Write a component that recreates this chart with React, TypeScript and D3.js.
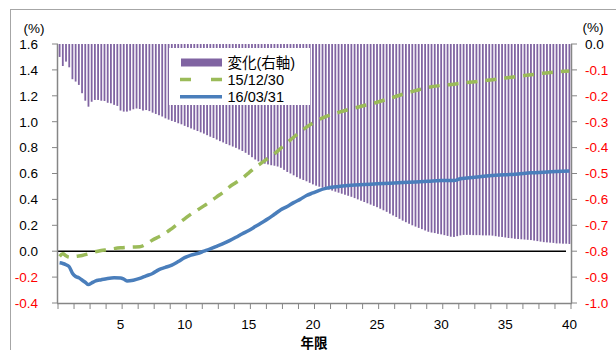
import React from 'react';
import * as d3 from 'd3';

// categories: years 0.25 .. 40 (quarterly)
const barCategories: number[] = d3.range(1, 161).map((i) => i / 4);

// 変化 (right axis, %)
const changeValues: number[] = [
  -0.05, -0.085, -0.068, -0.09, -0.136, -0.145, -0.158, -0.19, -0.219, -0.242,
  -0.223, -0.216, -0.216, -0.219, -0.22, -0.227, -0.229, -0.235, -0.239, -0.257,
  -0.261, -0.261, -0.257, -0.252, -0.249, -0.251, -0.257, -0.255, -0.259, -0.265,
  -0.27, -0.275, -0.28, -0.287, -0.292, -0.297, -0.301, -0.306, -0.31, -0.316,
  -0.321, -0.326, -0.331, -0.336, -0.341, -0.346, -0.352, -0.358, -0.363, -0.369,
  -0.375, -0.38, -0.386, -0.391, -0.396, -0.401, -0.407, -0.413, -0.42, -0.428,
  -0.437, -0.446, -0.453, -0.458, -0.462, -0.465, -0.468, -0.47, -0.473, -0.478,
  -0.486, -0.494, -0.5, -0.507, -0.514, -0.52, -0.525, -0.53, -0.536, -0.542,
  -0.547, -0.551, -0.555, -0.558, -0.562, -0.566, -0.57, -0.574, -0.578, -0.582,
  -0.586, -0.59, -0.595, -0.6, -0.605, -0.61, -0.615, -0.62, -0.625, -0.63,
  -0.636, -0.642, -0.648, -0.655, -0.662, -0.668, -0.675, -0.682, -0.688, -0.694,
  -0.7, -0.705, -0.71, -0.715, -0.72, -0.725, -0.728, -0.73, -0.733, -0.735,
  -0.738, -0.741, -0.744, -0.745, -0.742, -0.739, -0.737, -0.737, -0.737, -0.738,
  -0.738, -0.738, -0.739, -0.739, -0.739, -0.74, -0.742, -0.744, -0.745, -0.747,
  -0.749, -0.75, -0.752, -0.753, -0.754, -0.755, -0.756, -0.757, -0.759, -0.761,
  -0.763, -0.765, -0.766, -0.767, -0.768, -0.77, -0.77, -0.771, -0.771, -0.772,
];

// 15/12/30 (left axis, %)
const greenYears: number[] = [
  0.25, 0.5, 0.75, 1, 1.25, 1.5, 2, 2.5, 3, 3.5, 4, 4.5, 5, 5.5, 6, 6.5, 7, 7.5, 8, 8.5,
  9, 9.5, 10, 10.5, 11, 11.5, 12, 12.5, 13, 13.5, 14, 14.5, 15, 15.5, 16, 16.5, 17, 17.5,
  18, 18.5, 19, 19.5, 20, 21, 22, 23, 24, 25, 26, 27, 28, 29, 30, 31, 32, 33, 34, 35, 36,
  37, 38, 39, 40,
];
const greenValues: number[] = [
  -0.04, -0.02, -0.035, -0.046, -0.045, -0.04, -0.033, -0.02, -0.005, 0.005, 0.012, 0.02,
  0.026, 0.03, 0.032, 0.034, 0.055, 0.087, 0.112, 0.14, 0.175, 0.213, 0.25, 0.287, 0.318,
  0.35, 0.383, 0.42, 0.455, 0.497, 0.53, 0.564, 0.605, 0.648, 0.682, 0.717, 0.752, 0.795,
  0.838, 0.88, 0.92, 0.958, 0.99, 1.04, 1.072, 1.099, 1.125, 1.15, 1.18, 1.212, 1.24, 1.265,
  1.28, 1.29, 1.302, 1.313, 1.324, 1.337, 1.35, 1.362, 1.375, 1.385, 1.392,
];

// 16/03/31 (left axis, %)
const blueYears: number[] = [
  0.25, 0.5, 0.75, 1, 1.25, 1.5, 1.75, 2, 2.25, 2.5, 2.75, 3, 3.5, 4, 4.5, 5, 5.25, 5.5, 6,
  6.5, 7, 7.5, 8, 8.5, 9, 9.5, 10, 10.5, 11, 11.5, 12, 12.5, 13, 13.5, 14, 14.5, 15, 15.5,
  16, 16.5, 17, 17.5, 18, 18.5, 19, 19.5, 20, 20.5, 21, 22, 23, 24, 25, 26, 27, 28, 29, 30,
  31, 31.5, 32, 33, 34, 35, 36, 37, 38, 39, 40,
];
const blueValues: number[] = [
  -0.09, -0.095, -0.105, -0.12, -0.17, -0.195, -0.205, -0.222, -0.24, -0.258, -0.245,
  -0.232, -0.22, -0.21, -0.205, -0.206, -0.215, -0.23, -0.224, -0.21, -0.19, -0.172,
  -0.142, -0.125, -0.107, -0.08, -0.05, -0.03, -0.018, 0.0, 0.018, 0.038, 0.058, 0.082,
  0.108, 0.135, 0.16, 0.19, 0.22, 0.25, 0.285, 0.32, 0.345, 0.375, 0.4, 0.43, 0.45, 0.47,
  0.485, 0.5, 0.51, 0.515, 0.52, 0.525, 0.53, 0.535, 0.54, 0.545, 0.545, 0.56, 0.565,
  0.575, 0.585, 0.59, 0.597, 0.605, 0.61, 0.615, 0.62,
];

const leftTicks: number[] = [-0.4, -0.2, 0, 0.2, 0.4, 0.6, 0.8, 1.0, 1.2, 1.4, 1.6];
const rightTicks: number[] = [-1.0, -0.9, -0.8, -0.7, -0.6, -0.5, -0.4, -0.3, -0.2, -0.1, 0];
const xLabelYears: number[] = [5, 10, 15, 20, 25, 30, 35, 40];
const legendLabels: string[] = ['変化(右軸)', '15/12/30', '16/03/31'];

const FONT = "'Liberation Sans', 'Noto Sans CJK JP', sans-serif";
const PURPLE = '#8064A2';
const GREEN = '#9BBB59';
const BLUE = '#4A7EBB';
const AXIS = '#868686';
const RED = '#FF0000';

const fmt = d3.formatLocale({
  decimal: '.',
  thousands: ',',
  grouping: [3],
  currency: ['', ''],
  minus: '-',
}).format('.1f');

export default function App() {
  const X0 = 58;
  const X1 = 571;
  const YT = 44;
  const YB = 303;

  const xBand = d3
    .scaleBand<number>()
    .domain(barCategories)
    .range([X0, X1])
    .paddingInner(0.44)
    .paddingOuter(0.22);
  const step = xBand.step();
  const center = (t: number) => (xBand(t) as number) + xBand.bandwidth() / 2;
  const xLin = d3
    .scaleLinear()
    .domain([barCategories[0], barCategories[barCategories.length - 1]])
    .range([center(barCategories[0]), center(barCategories[barCategories.length - 1])]);

  const yL = d3.scaleLinear().domain([-0.4, 1.6]).range([YB, YT]);
  const yR = d3.scaleLinear().domain([-1.0, 0]).range([YB, YT]);

  const line = d3
    .line<[number, number]>()
    .x((d) => xLin(d[0]))
    .y((d) => yL(d[1]))
    .curve(d3.curveMonotoneX);

  const greenPath = line(greenYears.map((t, i) => [t, greenValues[i]]) as [number, number][]) || '';
  const bluePath = line(blueYears.map((t, i) => [t, blueValues[i]]) as [number, number][]) || '';

  // x tick marks every 5 categories at boundaries
  const xTickPos: number[] = d3.range(0, barCategories.length + 1, 5).map((k) => X0 + k * step);

  return (
    <svg
      width={616}
      height={350}
      style={{ position: 'absolute', left: 0, top: 0, background: '#fff' }}
      fontFamily={FONT}
    >
      <rect x={0} y={0} width={616} height={350} fill="#fff" />
      {/* outer frame */}
      <rect x={10.5} y={9.5} width={620} height={360} fill="none" stroke="#a6a6a6" strokeWidth={1} />

      {/* bars */}
      <g>
        {barCategories.map((t, i) => (
          <rect
            key={t}
            x={xBand(t)}
            y={yR(0)}
            width={xBand.bandwidth()}
            height={yR(changeValues[i]) - yR(0)}
            fill={PURPLE}
          />
        ))}
      </g>

      {/* zero line */}
      <line x1={X0} x2={X1 - 5} y1={yL(0)} y2={yL(0)} stroke="#000" strokeWidth={1.5} />

      {/* lines */}
      <path d={greenPath} fill="none" stroke={GREEN} strokeWidth={3.5} strokeDasharray="11,8" />
      <path d={bluePath} fill="none" stroke={BLUE} strokeWidth={3.5} strokeLinejoin="round" />

      {/* left axis */}
      <line x1={X0 - 0.5} x2={X0 - 0.5} y1={YT} y2={YB} stroke={AXIS} strokeWidth={1.5} />
      {leftTicks.map((v) => (
        <g key={'l' + v}>
          <line x1={X0 - 6} x2={X0} y1={yL(v)} y2={yL(v)} stroke={AXIS} strokeWidth={1} />
          <text
            x={38}
            y={yL(v)}
            dy="0.36em"
            textAnchor="end"
            fontSize={13.5}
            fill={v < 0 ? RED : '#000'}
          >
            {fmt(v)}
          </text>
        </g>
      ))}
      <text x={34} y={28} dy="0.36em" textAnchor="middle" fontSize={13.5}>
        (%)
      </text>

      {/* right axis */}
      <line x1={X1 + 0.5} x2={X1 + 0.5} y1={YT} y2={YB} stroke={AXIS} strokeWidth={1.5} />
      {rightTicks.map((v) => (
        <g key={'r' + v}>
          <line x1={X1} x2={X1 + 6} y1={yR(v)} y2={yR(v)} stroke={AXIS} strokeWidth={1} />
          <text
            x={585}
            y={yR(v)}
            dy="0.36em"
            textAnchor="start"
            fontSize={13.5}
            fill={v < -1e-9 ? RED : '#000'}
          >
            {fmt(v)}
          </text>
        </g>
      ))}
      <text x={593} y={27} dy="0.36em" textAnchor="middle" fontSize={13.5}>
        (%)
      </text>

      {/* x axis */}
      <line x1={X0 - 1} x2={X1 + 1} y1={YB + 0.5} y2={YB + 0.5} stroke={AXIS} strokeWidth={1.5} />
      {xTickPos.map((x, i) => (
        <line key={'xt' + i} x1={x} x2={x} y1={YB} y2={YB + 6} stroke={AXIS} strokeWidth={1} />
      ))}
      {xLabelYears.map((t) => (
        <text key={'xl' + t} x={center(t)} y={328.5} textAnchor="middle" fontSize={13.5} fill="#000">
          {t}
        </text>
      ))}
      <text x={314} y={348} textAnchor="middle" fontSize={13.5} fontWeight="bold">
        年限
      </text>

      {/* legend */}
      <rect x={169} y={48} width={141} height={57} fill="#fff" />
      <rect x={181} y={58.5} width={41} height={8} fill={PURPLE} />
      <line x1={180} x2={222} y1={79.5} y2={79.5} stroke={GREEN} strokeWidth={3.5} strokeDasharray="11,20" />
      <line x1={180} x2={222} y1={96.7} y2={96.7} stroke={BLUE} strokeWidth={3.5} />
      {legendLabels.map((s, i) => (
        <text key={s} x={227.5} y={[62.7, 79.5, 96.7][i]} dy="0.36em" fontSize={14.5} fill="#000">
          {s}
        </text>
      ))}
    </svg>
  );
}
